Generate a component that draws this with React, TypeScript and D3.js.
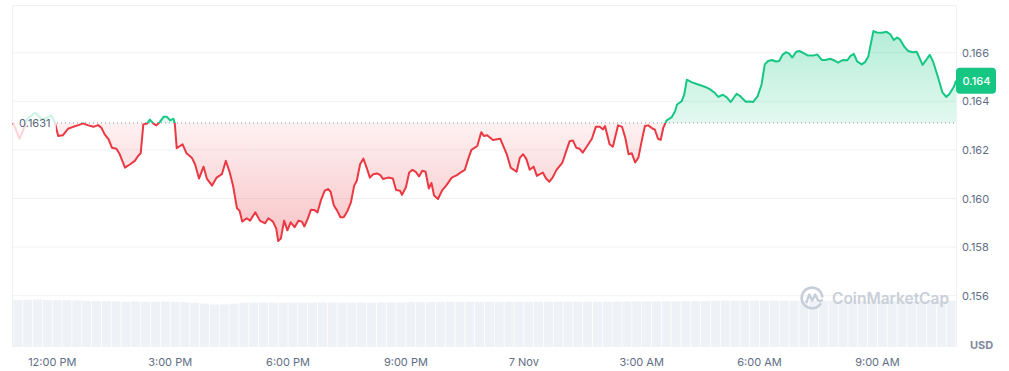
import React from "react";
import * as d3 from "d3";

// minutes after 11:00 AM, 6 Nov
const minutes = [
  0, 10, 15, 21, 34, 44, 51, 59, 64, 69, 76, 84, 92, 100, 107, 115, 123, 130, 135, 140,
  146, 151, 158, 163, 171, 179, 186, 191, 195, 199, 205, 209, 214, 219, 224, 230, 235, 240, 245, 247,
  250, 255, 259, 265, 273, 278, 284, 291, 296, 304, 311, 319, 325, 331, 336, 342, 346, 350, 357, 362,
  370, 377, 385, 390, 397, 402, 405, 409, 414, 419, 424, 430, 436, 441, 445, 450, 455, 460, 465, 470,
  476, 481, 485, 490, 495, 500, 505, 511, 516, 521, 525, 530, 535, 540, 545, 550, 556, 561, 565, 573,
  580, 585, 591, 594, 600, 605, 610, 615, 620, 625, 630, 635, 639, 643, 649, 655, 662, 670, 678, 685,
  690, 695, 700, 709, 715, 719, 724, 733, 744, 754, 760, 769, 774, 779, 784, 789, 795, 800, 809, 814,
  819, 824, 830, 839, 844, 850, 855, 860, 865, 870, 876, 884, 890, 896, 901, 904, 911, 916, 924, 930,
  935, 940, 945, 950, 955, 960, 965, 970, 977, 980, 985, 989, 993, 998, 1006, 1011, 1014, 1021, 1025, 1029,
  1036, 1044, 1052, 1058, 1064, 1072, 1077, 1084, 1090, 1096, 1105, 1111, 1119, 1125, 1130, 1137, 1143, 1148, 1153, 1159,
  1165, 1170, 1175, 1180, 1185, 1190, 1196, 1201, 1208, 1214, 1222, 1228, 1235, 1241, 1248, 1254, 1260, 1267, 1274, 1279,
  1284, 1289, 1296, 1301, 1306, 1310, 1314, 1319, 1327, 1334, 1340, 1345, 1350, 1354, 1361, 1367, 1374, 1380, 1389, 1400,
  1405, 1413, 1419, 1425, 1430, 1437, 1440,
];

const prices = [
  0.16311, 0.16246, 0.16277, 0.16326, 0.16354, 0.16325, 0.16332, 0.16342, 0.16311, 0.16257, 0.1626, 0.16287, 0.16295, 0.16302, 0.16309, 0.16301, 0.16295, 0.16302, 0.16291, 0.16264,
  0.16243, 0.16209, 0.16205, 0.16182, 0.16127, 0.16141, 0.16155, 0.16175, 0.16186, 0.16305, 0.16309, 0.16325, 0.16309, 0.16301, 0.16314, 0.16336, 0.16336, 0.16322, 0.16328, 0.16311,
  0.16207, 0.16216, 0.16223, 0.16186, 0.16168, 0.16141, 0.16082, 0.16131, 0.16082, 0.16053, 0.16086, 0.161, 0.16155, 0.16107, 0.16053, 0.1596, 0.1595, 0.15905, 0.15919, 0.15909,
  0.15943, 0.15909, 0.15898, 0.15919, 0.15905, 0.15876, 0.15825, 0.15835, 0.15909, 0.15869, 0.15902, 0.15882, 0.15909, 0.15905, 0.15885, 0.15916, 0.15954, 0.15953, 0.15943, 0.15991,
  0.16032, 0.16039, 0.16028, 0.15971, 0.1595, 0.15923, 0.15923, 0.1595, 0.15984, 0.16053, 0.16073, 0.16141, 0.16164, 0.16127, 0.16086, 0.161, 0.16103, 0.16096, 0.1608, 0.16086,
  0.16082, 0.16035, 0.16032, 0.16015, 0.16046, 0.16107, 0.16118, 0.1611, 0.16091, 0.16114, 0.1611, 0.16041, 0.16064, 0.16012, 0.15998, 0.16032, 0.16055, 0.16086, 0.16096, 0.1611,
  0.16118, 0.16162, 0.162, 0.16216, 0.16273, 0.16257, 0.1626, 0.16241, 0.16246, 0.16182, 0.16127, 0.1611, 0.16168, 0.16182, 0.16162, 0.16118, 0.16131, 0.16093, 0.16107, 0.16082,
  0.16069, 0.16086, 0.16118, 0.16148, 0.16189, 0.16236, 0.16239, 0.16209, 0.16205, 0.16189, 0.16213, 0.16246, 0.16295, 0.16295, 0.16284, 0.16298, 0.16223, 0.16213, 0.16301, 0.16295,
  0.1625, 0.16182, 0.16186, 0.16148, 0.16168, 0.16236, 0.16298, 0.16301, 0.16287, 0.16284, 0.16246, 0.16241, 0.16291, 0.16321, 0.16335, 0.16359, 0.16387, 0.164, 0.16427, 0.16489,
  0.16479, 0.16471, 0.16464, 0.16458, 0.1645, 0.16434, 0.16418, 0.16427, 0.16416, 0.16397, 0.16431, 0.1642, 0.16398, 0.16399, 0.16397, 0.1642, 0.16468, 0.16552, 0.16566, 0.1657,
  0.16564, 0.16566, 0.16591, 0.16602, 0.16597, 0.1658, 0.16604, 0.16607, 0.16597, 0.16588, 0.16588, 0.16593, 0.1657, 0.1657, 0.16575, 0.16568, 0.16559, 0.1657, 0.16569, 0.16587,
  0.16595, 0.16564, 0.16552, 0.16561, 0.16584, 0.16638, 0.16689, 0.16683, 0.16682, 0.16686, 0.16675, 0.16652, 0.16662, 0.16656, 0.16625, 0.16607, 0.16602, 0.16604, 0.1655, 0.16591,
  0.16564, 0.16495, 0.16438, 0.16418, 0.1643, 0.16461, 0.16485,
];

// 15-minute volume buckets (relative units)
const volumes = [
  47.0, 47.2, 47.6, 47.0, 46.8, 46.8, 46.6, 46.0, 46.0, 45.8,
  45.4, 45.3, 45.5, 45.2, 45.3, 45.4, 45.0, 44.8, 44.2, 43.5,
  42.5, 42.6, 43.2, 44.2, 44.3, 44.4, 44.3, 44.2, 44.4, 44.3,
  44.3, 44.5, 44.4, 44.3, 44.4, 44.5, 44.3, 44.4, 44.6, 44.7,
  44.8, 44.9, 44.8, 45.0, 45.1, 45.0, 45.2, 45.1, 45.0, 45.2,
  45.3, 45.2, 45.1, 45.3, 45.2, 45.3, 45.4, 45.3, 45.2, 45.3,
  45.3, 45.4, 45.5, 45.6, 45.5, 45.6, 45.7, 45.6, 45.8, 45.9,
  46.0, 46.2, 46.3, 46.2, 46.1, 46.3, 46.2, 46.3, 46.2, 46.1,
  46.2, 46.3, 46.1, 46.2, 46.3, 46.2, 46.1, 46.2, 46.3, 46.2,
  46.1, 46.2, 46.3, 46.2, 46.1, 46.2,
];

const priceTicks = [0.156, 0.158, 0.16, 0.162, 0.164, 0.166];
const baseLabel = "0.1631";
const lastPriceLabel = "0.164";
const currencyLabel = "USD";

const W = 1009;
const H = 371;
const LEFT = 13;
const RIGHT = 956;
const TOP = 5;
const BOTTOM = 347;
const RED = "#ea3943";
const GREEN = "#16c784";
const FONT = "Inter, 'Noto Sans', sans-serif";

export default function App() {
  const start = new Date(2023, 10, 6, 11, 0);
  const end = new Date(2023, 10, 7, 11, 0);
  const x = d3.scaleTime().domain([start, end]).range([LEFT, RIGHT]);
  const y = d3.scaleLinear().domain([0.156, 0.166]).range([295.7, 52.7]);
  const volY = d3.scaleLinear().domain([0, 50]).range([BOTTOM, BOTTOM - 50]);

  const data = minutes.map((m, i) => ({ t: new Date(start.getTime() + m * 60000), v: prices[i] }));
  const base = prices[0];
  const yBase = y(base);
  const last = data[data.length - 1];
  const yMin = y(d3.min(prices) as number);
  const yMax = y(d3.max(prices) as number);

  const line = d3.line<any>().x((d) => x(d.t)).y((d) => y(d.v));
  const area = d3.area<any>().x((d) => x(d.t)).y0(yBase).y1((d) => y(d.v));
  const linePath = line(data) || "";
  const areaPath = area(data) || "";

  const step = 15 * 60000;
  const barW = x(new Date(start.getTime() + step)) - x(start);

  const xTicks = x.ticks(d3.timeHour.every(3) as any);
  const fmtTime = d3.timeFormat("%-I:%M %p");
  const fmtDay = d3.timeFormat("%-d %b");
  const fmt = (d: Date) => (d.getHours() === 0 ? fmtDay(d) : fmtTime(d));

  return (
    <div style={{ position: "absolute", left: 0, top: 0 }}>
      <svg width={W} height={H} style={{ display: "block", fontFamily: FONT }}>
        <defs>
          <clipPath id="above">
            <rect x={0} y={0} width={W} height={yBase} />
          </clipPath>
          <clipPath id="below">
            <rect x={0} y={yBase} width={W} height={H - yBase} />
          </clipPath>
          <linearGradient id="redGrad" gradientUnits="userSpaceOnUse" x1={0} y1={yBase} x2={0} y2={yMin}>
            <stop offset="0" stopColor={RED} stopOpacity={0.07} />
            <stop offset="1" stopColor={RED} stopOpacity={0.3} />
          </linearGradient>
          <linearGradient id="greenGrad" gradientUnits="userSpaceOnUse" x1={0} y1={yMax} x2={0} y2={yBase}>
            <stop offset="0" stopColor={GREEN} stopOpacity={0.32} />
            <stop offset="1" stopColor={GREEN} stopOpacity={0.12} />
          </linearGradient>
        </defs>

        {/* volume bars */}
        <g>
          {volumes.map((v, i) => {
            const t = new Date(start.getTime() + i * step);
            return (
              <rect
                key={i}
                x={x(t) + 0.4}
                y={volY(v)}
                width={Math.max(0, barW - 0.8)}
                height={BOTTOM - volY(v)}
                fill="#eef1f5"
              />
            );
          })}
        </g>

        {/* grid */}
        <g>
          {priceTicks.map((t) => (
            <line key={t} x1={LEFT} x2={RIGHT} y1={y(t)} y2={y(t)} stroke="#eff2f5" strokeWidth={1} />
          ))}
          <line x1={LEFT} x2={RIGHT} y1={TOP + 0.5} y2={TOP + 0.5} stroke="#eff2f5" />
          <line x1={LEFT - 0.5} x2={LEFT - 0.5} y1={TOP} y2={BOTTOM} stroke="#eff2f5" />
          <line x1={RIGHT + 0.5} x2={RIGHT + 0.5} y1={TOP} y2={BOTTOM} stroke="#eff2f5" />
        </g>

        {/* watermark */}
        <g transform="translate(812,298)" opacity={1}>
          <path
            d="M 8.2 6.2 A 10.3 10.3 0 1 1 10.2 -1.5"
            fill="none"
            stroke="#c8ced9"
            strokeWidth={2.6}
            strokeLinecap="round"
          />
          <path
            d="M -5.5 4 L -2.6 -3.6 L 0.2 2.6 L 3.2 -3.6 L 5.6 1.5 Q 7.5 4.5 10 2.2"
            fill="none"
            stroke="#c8ced9"
            strokeWidth={2.4}
            strokeLinecap="round"
            strokeLinejoin="round"
          />
        </g>
        <text x={832} y={298} dominantBaseline="central" fontSize={15.5} fontWeight={600} fill="#c9cfd9">
          CoinMarketCap
        </text>

        {/* fills */}
        <path d={areaPath} fill="url(#greenGrad)" clipPath="url(#above)" />
        <path d={areaPath} fill="url(#redGrad)" clipPath="url(#below)" />

        {/* baseline */}
        <line
          x1={LEFT}
          x2={RIGHT}
          y1={yBase}
          y2={yBase}
          stroke="#8a8f99"
          strokeWidth={1}
          strokeDasharray="1 3"
        />

        {/* price line */}
        <path d={linePath} fill="none" stroke={GREEN} strokeWidth={2} strokeLinejoin="round" clipPath="url(#above)" />
        <path d={linePath} fill="none" stroke={RED} strokeWidth={2} strokeLinejoin="round" clipPath="url(#below)" />

        {/* base label */}
        <rect x={LEFT} y={106} width={43} height={36} fill="#ffffff" opacity={0.78} />
        <text x={19} y={yBase} dominantBaseline="central" fontSize={11} fill="#58667e">
          {baseLabel}
        </text>

        {/* right axis */}
        {priceTicks.map((t) => (
          <text key={t} x={962} y={y(t)} dominantBaseline="central" fontSize={11} fill="#616e85">
            {d3.format(".3f")(t)}
          </text>
        ))}

        {/* last price tag */}
        <rect x={RIGHT} y={y(last.v) - 13} width={40} height={26} rx={4} fill={GREEN} />
        <text x={962.5} y={y(last.v)} dominantBaseline="central" fontSize={11} fontWeight={500} fill="#ffffff">
          {lastPriceLabel}
        </text>

        <text x={970} y={345} dominantBaseline="central" fontSize={11} fontWeight={700} fill="#808a9d">
          {currencyLabel}
        </text>

        {/* x axis */}
        {xTicks.map((t) => (
          <text
            key={t.getTime()}
            x={x(t)}
            y={362}
            textAnchor="middle"
            dominantBaseline="central"
            fontSize={11}
            fill="#616e85"
          >
            {fmt(t)}
          </text>
        ))}
      </svg>
    </div>
  );
}
